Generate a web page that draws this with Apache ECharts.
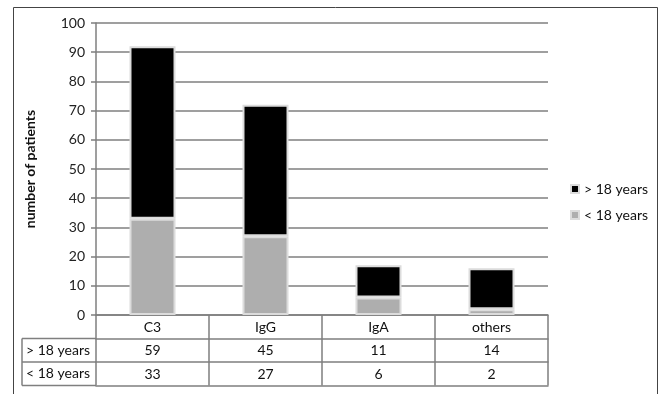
<!DOCTYPE html>
<html><head><meta charset="utf-8">
<script src="https://cdn.jsdelivr.net/npm/echarts@6/dist/echarts.min.js"></script>
<style>html,body{margin:0;padding:0;background:#fff}#c{width:659px;height:394px}</style>
</head><body><div id="c"></div>
<script>
const categories = ['C3', 'IgG', 'IgA', 'others'];
const over18 = [59, 45, 11, 14];
const under18 = [33, 27, 6, 2];
const seriesNames = ['> 18 years', '< 18 years'];
const yTicks = [0, 10, 20, 30, 40, 50, 60, 70, 80, 90, 100];

const FONT = 'Lato, "Open Sans", sans-serif';
const GRID = {left: 96, right: 111, top: 23, bottom: 79};
const ROW = 23.5;
const lineColor = '#7f7f7f';

const chart = echarts.init(document.getElementById('c'), null, {renderer: 'canvas'});

function tableAxis(idx, labels, offset, showLabels) {
  return {
    type: 'category', data: categories, gridIndex: 0, position: 'bottom', offset: offset,
    axisLine: {show: true, lineStyle: {color: lineColor, width: 1.5}},
    axisTick: {show: true, length: ROW, alignWithLabel: false, lineStyle: {color: lineColor, width: 1.5}},
    axisLabel: {show: showLabels, margin: 5, fontFamily: FONT, fontSize: 14, color: '#111',
      formatter: (v, i) => labels ? String(labels[i]) : v},
    splitLine: {show: false}
  };
}

const option = {
  animation: false,
  backgroundColor: '#fff',
  grid: GRID,
  legend: {
    orient: 'vertical', right: 6, top: 177, itemGap: 12,
    itemWidth: 8, itemHeight: 8, icon: 'rect',
    data: seriesNames,
    textStyle: {fontFamily: FONT, fontSize: 14, color: '#111'}
  },
  xAxis: [
    tableAxis(0, null, 0, true),
    tableAxis(1, over18, ROW, true),
    tableAxis(2, under18, ROW * 2, true),
    Object.assign(tableAxis(3, null, ROW * 3, false), {axisTick: {show: false}})
  ],
  yAxis: {
    type: 'value', min: 0, max: 100, interval: 10,
    name: 'number of patients', nameLocation: 'middle', nameGap: 59,
    nameTextStyle: {fontFamily: FONT, fontSize: 14, fontWeight: 'bold', color: '#111'},
    axisLine: {show: true, lineStyle: {color: lineColor, width: 1.5}},
    axisTick: {show: true, length: 5, lineStyle: {color: lineColor, width: 1.5}},
    axisLabel: {fontFamily: FONT, fontSize: 14, color: '#222', margin: 11,
      formatter: v => yTicks.includes(v) ? String(v) : ''},
    splitLine: {show: true, lineStyle: {color: lineColor, width: 1.5}}
  },
  series: [
    {name: seriesNames[1], type: 'bar', stack: 's', data: under18, barWidth: 46,
     itemStyle: {color: '#aeaeae', borderColor: '#dcdcdc', borderWidth: 2}},
    {name: seriesNames[0], type: 'bar', stack: 's', data: over18, barWidth: 46,
     itemStyle: {color: '#000', borderColor: '#dcdcdc', borderWidth: 2}}
  ],
  graphic: []
};
chart.setOption(option);

// table header column (decoration) positioned from grid geometry
const x0 = GRID.left, y0 = 394 - GRID.bottom;
const lx = 22;
const ls = {stroke: lineColor, lineWidth: 1.5};
chart.setOption({graphic: [
  {type: 'rect', shape: {x: 13.5, y: 7.5, width: 644, height: 390}, style: {fill: 'none', stroke: '#444', lineWidth: 1}, silent: true, z: -1},
  {type: 'line', shape: {x1: lx, y1: y0 + ROW, x2: x0, y2: y0 + ROW}, style: ls},
  {type: 'line', shape: {x1: lx, y1: y0 + ROW * 2, x2: x0, y2: y0 + ROW * 2}, style: ls},
  {type: 'line', shape: {x1: lx, y1: y0 + ROW * 3, x2: x0, y2: y0 + ROW * 3}, style: ls},
  {type: 'line', shape: {x1: lx, y1: y0 + ROW, x2: lx, y2: y0 + ROW * 3}, style: ls},
  {type: 'text', x: lx + 4, y: y0 + ROW * 1.5, style: {text: seriesNames[0], font: '14px ' + FONT, fill: '#111', textVerticalAlign: 'middle'}},
  {type: 'text', x: lx + 4, y: y0 + ROW * 2.5, style: {text: seriesNames[1], font: '14px ' + FONT, fill: '#111', textVerticalAlign: 'middle'}}
]});
</script></body></html>
